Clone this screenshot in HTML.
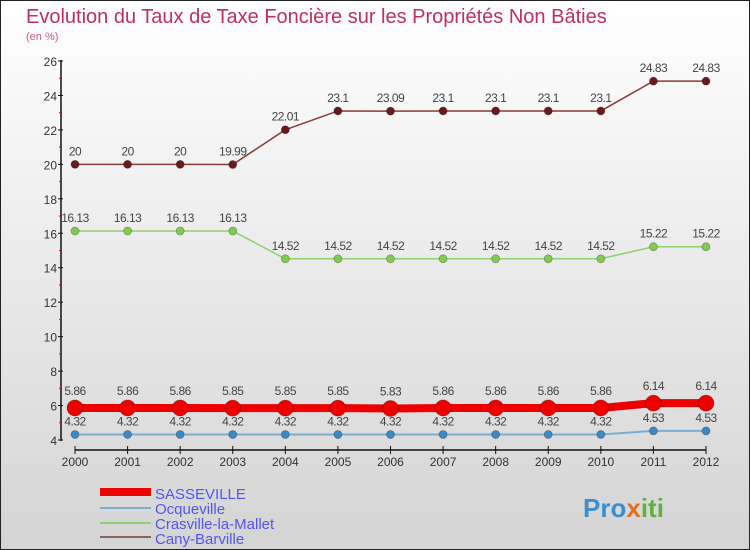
<!DOCTYPE html>
<html><head><meta charset="utf-8"><style>
body{margin:0;width:750px;height:550px;overflow:hidden;font-family:"Liberation Sans",sans-serif}
svg{display:block}
</style></head><body>
<svg width="750" height="550">
<defs><linearGradient id="bg" x1="0" y1="0" x2="0" y2="1"><stop offset="0" stop-color="#ffffff"/><stop offset="1" stop-color="#d4d4d4"/></linearGradient></defs>
<rect x="0.5" y="0.5" width="749" height="549" fill="url(#bg)" stroke="#222"/>
<text x="26" y="23" font-size="20" fill="#c0305a">Evolution du Taux de Taxe Foncière sur les Propriétés Non Bâties</text>
<text x="26" y="40" font-size="11" fill="#d05a80">(en %)</text>
<g id="axes"></g>
<g id="series"></g>
<g>
<line x1="100" y1="492" x2="151" y2="492" stroke="#e00" stroke-width="8"/>
<text x="155" y="499" font-size="15" fill="#5555ee">SASSEVILLE</text>
<line x1="100" y1="508" x2="151" y2="508" stroke="#7aaed0" stroke-width="2"/>
<text x="155" y="514" font-size="15" fill="#5555ee">Ocqueville</text>
<line x1="100" y1="523" x2="151" y2="523" stroke="#90d070" stroke-width="2"/>
<text x="155" y="529" font-size="15" fill="#5555ee">Crasville-la-Mallet</text>
<line x1="100" y1="537" x2="151" y2="537" stroke="#906060" stroke-width="2"/>
<text x="155" y="544" font-size="15" fill="#5555ee">Cany-Barville</text>
</g>
<text x="583" y="517" font-size="26" font-weight="bold" fill="#3a8fd0">Pro<tspan fill="#e07020">x</tspan><tspan fill="#60b040">iti</tspan></text>
</svg>
<script>
const years=[2000,2001,2002,2003,2004,2005,2006,2007,2008,2009,2010,2011,2012];
const yTicks=[4,6,8,10,12,14,16,18,20,22,24,26];
const sasseville=[5.86,5.86,5.86,5.85,5.85,5.85,5.83,5.86,5.86,5.86,5.86,6.14,6.14];
const ocqueville=[4.32,4.32,4.32,4.32,4.32,4.32,4.32,4.32,4.32,4.32,4.32,4.53,4.53];
const crasville=[16.13,16.13,16.13,16.13,14.52,14.52,14.52,14.52,14.52,14.52,14.52,15.22,15.22];
const cany=[20,20,20,19.99,22.01,23.1,23.09,23.1,23.1,23.1,23.1,24.83,24.83];
const NS="http://www.w3.org/2000/svg";
const xS=i=>75+i*(706-75)/12;
const yS=v=>440-(v-4)*(440-61)/22;
function mk(tag,attrs,parent){const e=document.createElementNS(NS,tag);for(const k in attrs)e.setAttribute(k,attrs[k]);parent.appendChild(e);return e;}
const ax=document.getElementById('axes');
let l=mk('line',{x1:61,y1:60,x2:61,y2:441,stroke:'#111','stroke-width':1.5},ax);


yTicks.forEach(v=>{
 const t=mk('line',{x1:58,y1:yS(v),x2:63,y2:yS(v),stroke:'#111'},ax);
 
 
 const m=mk('line',{x1:59,y1:yS(v+1),x2:62,y2:yS(v+1),stroke:'#e00'},ax);
 if(v===26)m.remove();
 
 
 const tx=mk('text',{x:57,y:yS(v)+5,'font-size':12,fill:'#333','text-anchor':'end'},ax);tx.textContent=v;
 
 
});
l=mk('line',{x1:75,y1:450,x2:706,y2:450,stroke:'#111','stroke-width':1.5},ax);


years.forEach((y,i)=>{
 const t=mk('line',{x1:xS(i),y1:446,x2:xS(i),y2:454,stroke:'#111'},ax);
 
 
 const tx=mk('text',{x:xS(i),y:466,'font-size':12,fill:'#333','text-anchor':'middle'},ax);tx.textContent=y;
 
 
});
const sg=document.getElementById('series');
function draw(data,name,color,w,r,fill){
 const g=mk('g',{},sg);
 
 
 const p=mk('polyline',{points:data.map((v,i)=>xS(i)+','+yS(v)).join(' '),fill:'none',stroke:color,'stroke-width':w},g);
 
 
 data.forEach((v,i)=>{
  const c=mk('circle',{cx:xS(i),cy:yS(v),r:r,fill:fill,stroke:'rgba(0,0,0,0.3)','stroke-width':0.8},g);
  
  
  const t=mk('text',{x:xS(i),y:yS(v)-(r+5),'font-size':12,fill:'#444','text-anchor':'middle','letter-spacing':'-0.5'},g);t.textContent=v;
  
  
 });
}
draw(cany,'cany-barville','#8a3a3a',1.5,4,'#6a1a1a');
draw(crasville,'crasville-la-mallet','#90d070',1.5,4,'#80cc50');
draw(ocqueville,'ocqueville','#7aaed0',2,4,'#3a8ac8');
draw(sasseville,'sasseville','#ee0000',8,8,'#ee0000');
</script>
</body></html>
